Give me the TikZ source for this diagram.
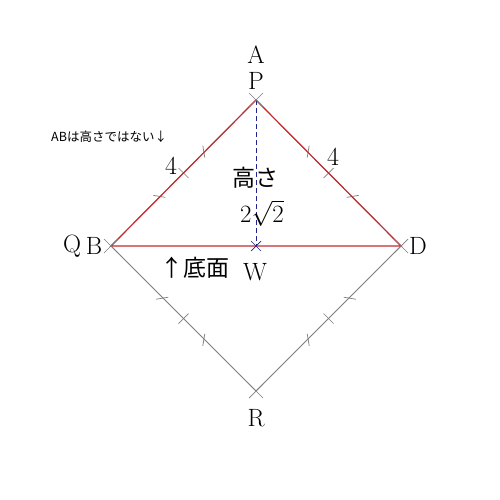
\documentclass[tikz,border=0pt]{standalone}
\usepackage{fontspec}
\newfontfamily\jp{Noto Sans CJK JP}
\usetikzlibrary{calc}
\definecolor{edgered}{RGB}{195,45,50}
\definecolor{edgegray}{RGB}{125,125,125}
\definecolor{hblue}{RGB}{35,35,140}
\tikzset{
  sq/.style={draw=edgegray,line width=0.8pt},
  tri/.style={draw=edgered,line width=1.2pt},
  hline/.style={draw=hblue,line width=0.9pt,dashed,dash pattern=on 5pt off 3pt},
  tk/.style={draw=edgegray,line width=0.7pt},
  lbl/.style={font=\fontsize{25}{25}\selectfont,inner sep=0pt},
  num/.style={font=\fontsize{26}{26}\selectfont,inner sep=0pt},
  jlbl/.style={font=\jp\fontsize{23}{23}\selectfont,inner sep=0pt},
  small/.style={font=\jp\fontsize{12.5}{12.5}\selectfont,inner sep=0pt}
}
\begin{document}
\begin{tikzpicture}[x=1pt,y=-1pt]
\useasboundingbox (0,0) rectangle (500,500);
\fill[white] (0,0) rectangle (500,500);
\coordinate (P) at (256,100);
\coordinate (B) at (111,246);
\coordinate (D) at (401,246);
\coordinate (R) at (256,391);
\coordinate (W) at (256,246);
% square
\draw[sq] (P) -- (B) -- (R) -- (D) -- cycle;
% ticks: middle perpendicular
\draw[tk] ($(B)!0.5!(P)$) +(-5,-5) -- +(5,5);
\draw[tk] ($(P)!0.5!(D)$) +(-5,5) -- +(5,-5);
\draw[tk] ($(B)!0.5!(R)$) +(-5,5) -- +(5,-5);
\draw[tk] ($(D)!0.5!(R)$) +(-5,-5) -- +(5,5);
% ticks near B/D: horizontal; near P/R: vertical
\draw[tk] ($(B)!0.34!(P)$) +(-7,-1) -- +(5,1);
\draw[tk] ($(B)!0.64!(P)$) +(-1,-7) -- +(1,5);
\draw[tk] ($(D)!0.34!(P)$) +(7,-1) -- +(-5,1);
\draw[tk] ($(D)!0.64!(P)$) +(1,-7) -- +(-1,5);
\draw[tk] ($(B)!0.36!(R)$) +(-7,1) -- +(5,-1);
\draw[tk] ($(B)!0.64!(R)$) +(-1,7) -- +(1,-5);
\draw[tk] ($(D)!0.36!(R)$) +(7,1) -- +(-5,-1);
\draw[tk] ($(D)!0.64!(R)$) +(1,7) -- +(-1,-5);
% triangle
\draw[tri] (P) -- (B) -- (D) -- cycle;
% height
\draw[hline] (P) -- (W);
% vertex crosses
\foreach \v in {P,B,D,R} {
  \draw[tk] (\v) +(-7,-7) -- +(7,7);
  \draw[tk] (\v) +(-7,7) -- +(7,-7);
}
\draw[draw=hblue,line width=0.7pt] (W) +(-5,-5) -- +(5,5);
\draw[draw=hblue,line width=0.7pt] (W) +(-5,5) -- +(5,-5);
% labels
\node[lbl] (lA) at (256,55) {A};
\node[lbl] (lP) at (256,81) {P};
\node[lbl] (lQ) at (72,246) {Q};
\node[lbl] (lB) at (94,246) {B};
\node[lbl] (lD) at (418,246) {D};
\node[lbl] (lW) at (255,272) {W};
\node[lbl] (lR) at (256,418) {R};
\node[num] (n1) at (171,166) {4};
\node[num] (n2) at (333,157) {4};
\node[jlbl] (h) at (255,178) {高さ};
\node[num,font=\fontsize{23}{23}\selectfont] (h2) at (262,213) {$2\sqrt{2}$};
\node[jlbl,anchor=west] (base) at (160,268) {↑底面};
\node[small,anchor=west] (note) at (51,137) {ABは高さではない↓};
\end{tikzpicture}
\end{document}
